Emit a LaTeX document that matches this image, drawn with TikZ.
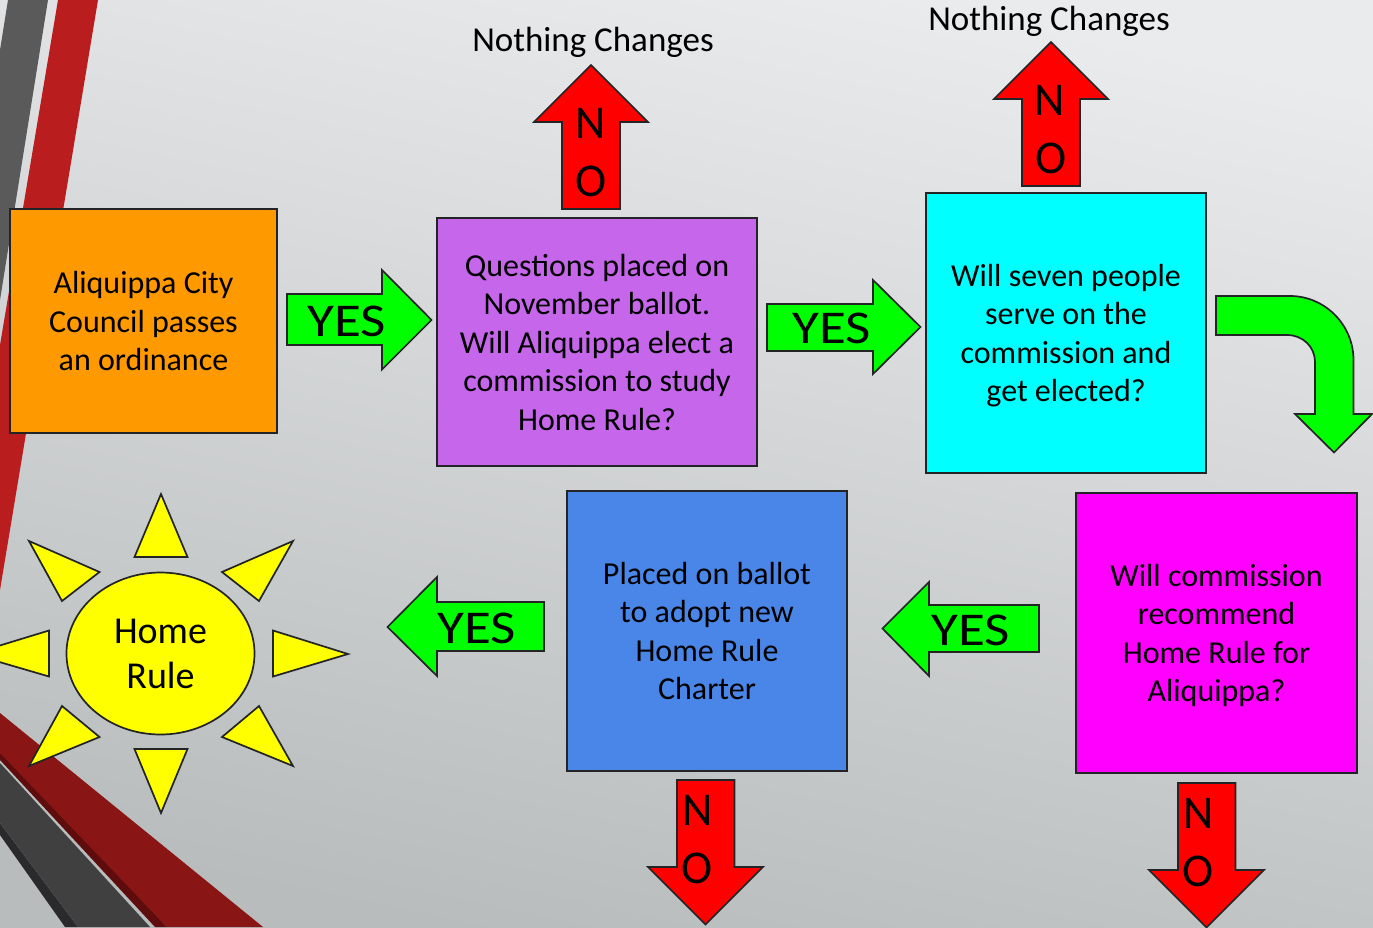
\documentclass[tikz,border=0pt]{standalone}
\usepackage{graphicx}
\usepackage{fontspec}
\setmainfont{Carlito}
\usetikzlibrary{shapes.geometric}
\definecolor{lineC}{HTML}{222426}
\definecolor{okC}{HTML}{00FF00}
\definecolor{noC}{HTML}{FF0000}
\definecolor{sunC}{HTML}{FFFF00}
\newcommand{\yesword}{\scalebox{1.17}[1]{YES}}
\tikzset{
  flowbox/.style={draw=lineC,line width=1.7pt,inner sep=0pt,align=center,text depth=0pt,font=\fontsize{32}{38.5}\selectfont,text=black},
  blockarrow/.style={draw=lineC,line width=1.7pt,line join=miter},
  yesarrow/.style={blockarrow,fill=okC},
  noarrow/.style={blockarrow,fill=noC},
  ray/.style={draw=lineC,line width=1.7pt,fill=sunC,line join=miter},
  biglabel/.style={inner sep=0pt,text=black,font=\fontsize{47}{47}\selectfont},
  toplabel/.style={inner sep=0pt,text=black,font=\fontsize{35}{40}\selectfont}
}
\begin{document}
\begin{tikzpicture}[x=1pt,y=-1pt]
\useasboundingbox (0,0) rectangle (1373,927);
\clip (0,0) rectangle (1373,927);
% background
\shade[top color={rgb,255:red,234;green,235;blue,236},bottom color={rgb,255:red,184;green,188;blue,189},shading angle=-12] (-5,-5) rectangle (1378,932);
% decorative bands, top left
\fill[color={rgb,255:red,90;green,90;blue,90}] (8,0) -- (48,0) -- (0,300) -- (0,50) -- cycle;
\fill[color={rgb,255:red,186;green,29;blue,29}] (58,0) -- (98,0) -- (0,590) -- (0,345) -- cycle;
% decorative bands, bottom left
\fill[color={rgb,255:red,94;green,12;blue,12}] (0,750) -- (27,778) -- (167,927) -- (155,927) -- (0,760) -- cycle;
\fill[color={rgb,255:red,138;green,21;blue,21}] (0,713) -- (263,927) -- (167,927) -- (0,753) -- cycle;
\fill[color={rgb,255:red,42;green,42;blue,44}] (0,823) -- (78,927) -- (65,927) -- (0,835) -- cycle;
\fill[color={rgb,255:red,64;green,64;blue,64}] (0,763) -- (150,927) -- (78,927) -- (0,823) -- cycle;
% boxes
\node[flowbox,fill={rgb,255:red,255;green,153;blue,0},minimum width=267pt,minimum height=224pt] (council) at (143.5,321) {Aliquippa City\\Council passes\\an ordinance};
\node[flowbox,fill={rgb,255:red,198;green,102;blue,234},minimum width=320pt,minimum height=248pt] (ballot) at (597,342) {Questions placed on\\November ballot.\\Will Aliquippa elect a\\commission to study\\Home Rule?};
\node[flowbox,fill={rgb,255:red,0;green,255;blue,255},minimum width=280pt,minimum height=280pt] (seven) at (1066,333) {Will seven people\\serve on the\\commission and\\get elected?};
\node[flowbox,fill={rgb,255:red,74;green,134;blue,232},minimum width=280pt,minimum height=280pt] (adopt) at (707,631) {Placed on ballot\\to adopt new\\Home Rule\\Charter};
\node[flowbox,fill={rgb,255:red,255;green,0;blue,255},minimum width=281pt,minimum height=280pt] (recommend) at (1216.5,633) {Will commission\\recommend\\Home Rule for\\Aliquippa?};
% sun
\node[flowbox,ellipse,fill=sunC,minimum width=188pt,minimum height=162pt,text depth=-2pt,font=\fontsize{38}{45}\selectfont] (sun) at (160.5,653.5) {Home\\Rule};
\draw[ray] (161,494) -- (134.5,557) -- (187.5,557) -- cycle;
\draw[ray] (134.5,749) -- (187.5,749) -- (161,813) -- cycle;
\draw[ray] (273,630.5) -- (348,654) -- (273,676.5) -- cycle;
\draw[ray] (49,630.5) -- (49,676.5) -- (-28,654) -- cycle;
\draw[ray] (222,572) -- (293,541) -- (259,601) -- cycle;
\draw[ray] (29,541) -- (99.5,572) -- (62,601) -- cycle;
\draw[ray] (222,737) -- (259,706) -- (293,766) -- cycle;
\draw[ray] (99.5,737) -- (62,706) -- (29,766) -- cycle;
% YES arrows
\draw[yesarrow] (287,294) -- (382,294) -- (382,270) -- (431.5,320) -- (382,369.5) -- (382,345) -- (287,345) -- cycle;
\node[biglabel] (yesa) at (347,321) {\yesword};
\draw[yesarrow] (767,304) -- (873,304) -- (873,280) -- (920.5,327) -- (873,374) -- (873,351) -- (767,351) -- cycle;
\node[biglabel] (yesb) at (832,328) {\yesword};
\draw[yesarrow] (1039,605) -- (929,605) -- (929,582) -- (882.5,628.5) -- (929,676) -- (929,652) -- (1039,652) -- cycle;
\node[biglabel] (yesc) at (971,630) {\yesword};
\draw[yesarrow] (544,602) -- (437,602) -- (437,577) -- (387.5,627) -- (437,676) -- (437,651) -- (544,651) -- cycle;
\node[biglabel] (yesd) at (477,628) {\yesword};
% curved arrow
\draw[yesarrow] (1216,296) -- (1290,296) .. controls (1325,296) and (1353.5,325) .. (1353.5,360) -- (1353.5,414) -- (1372,414) -- (1334,452.5) -- (1295,414) -- (1315,414) -- (1315,362) .. controls (1315,347) and (1303,335) .. (1287,335) -- (1216,335) -- cycle;
% NO arrows
\draw[noarrow] (562,209) -- (562,122) -- (534,122) -- (591,65) -- (648,122) -- (620,122) -- (620,209) -- cycle;
\node[biglabel] (noan) at (591,123) {N};
\node[biglabel] (noao) at (591,181) {O};
\draw[noarrow] (1022,186) -- (1022,99) -- (994,99) -- (1051,42) -- (1108,99) -- (1080,99) -- (1080,186) -- cycle;
\node[biglabel] (nobn) at (1050,100) {N};
\node[biglabel] (nobo) at (1051,158) {O};
\draw[noarrow] (677,780) -- (734.5,780) -- (734.5,867) -- (763,867) -- (705.5,924.5) -- (648,867) -- (677,867) -- cycle;
\node[biglabel] (nocn) at (698,810) {N};
\node[biglabel] (noco) at (697,868) {O};
\draw[noarrow] (1178,783) -- (1235.5,783) -- (1235.5,870) -- (1264,870) -- (1206.5,927.5) -- (1149,870) -- (1178,870) -- cycle;
\node[biglabel] (nodn) at (1199,813) {N};
\node[biglabel] (nodo) at (1198,871) {O};
% top labels
\node[toplabel] (nca) at (593,42) {Nothing Changes};
\node[toplabel] (ncb) at (1049,21) {Nothing Changes};
\end{tikzpicture}
\end{document}
